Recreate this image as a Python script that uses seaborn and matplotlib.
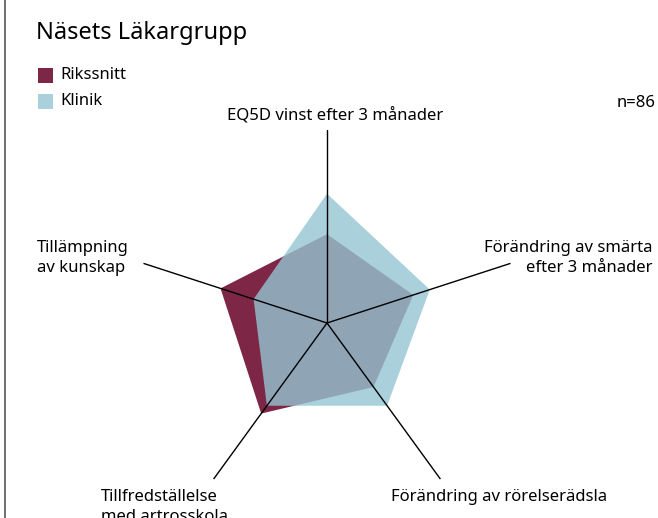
import numpy as np
import matplotlib
matplotlib.use("Agg")
import matplotlib.pyplot as plt
from matplotlib.lines import Line2D
from matplotlib.patches import Rectangle
import seaborn as sns

# -----------------------------------------------------------------------------
# Data (skala 0-100)
# -----------------------------------------------------------------------------
kategorier = [
    "EQ5D vinst efter 3 månader",
    "Förändring av smärta\nefter 3 månader",
    "Förändring av rörelserädsla",
    "Tillfredställelse\nmed artrosskola",
    "Tillämpning\nav kunskap",
]
rikssnitt = [46, 47, 41, 58, 58]
klinik = [67, 56, 53, 53, 40]
serier = ["Rikssnitt", "Klinik"]
titel = "Näsets Läkargrupp"
antal = "n=86"

farger = {"Rikssnitt": "#7d2645", "Klinik": "#94c5d2"}
alfa = {"Rikssnitt": 1.0, "Klinik": 0.8}

sns.set_theme(style="white")
plt.rcParams["font.family"] = ["Noto Sans", "DejaVu Sans"]
plt.rcParams["text.color"] = "black"

W, H = 658, 518
fig = plt.figure(figsize=(W / 100, H / 100), dpi=100)


def fx(px):
    return px / W


def fy(py):
    return 1 - py / H


# polär axel centrerad i (327, 323) px med radie 193 px
cx, cy, R = 327, 323, 193
ax = fig.add_axes([fx(cx - R), fy(cy + R), 2 * R / W, 2 * R / H], projection="polar")
ax.set_theta_zero_location("N")
ax.set_theta_direction(-1)
ax.set_ylim(0, 100)
ax.grid(False)
ax.set_xticks([])
ax.set_yticks([])
ax.spines["polar"].set_visible(False)
ax.patch.set_alpha(0)

vinklar = np.linspace(0, 2 * np.pi, len(kategorier), endpoint=False)
slut = np.append(vinklar, vinklar[0])

ax.fill(slut, rikssnitt + rikssnitt[:1], color=farger["Rikssnitt"], lw=0, zorder=1)
ax.fill(slut, klinik + klinik[:1], color=farger["Klinik"], alpha=alfa["Klinik"],
        lw=0, zorder=2)

for v in vinklar:
    ax.plot([v, v], [0, 100], color="black", lw=1.0, zorder=3)

# -----------------------------------------------------------------------------
# Texter
# -----------------------------------------------------------------------------
fs = 12
fig.text(fx(335), fy(115), kategorier[0], ha="center", va="center", fontsize=fs)
fig.text(fx(653), fy(258), kategorier[1], ha="right", va="center", fontsize=fs,
         multialignment="right", linespacing=1.3)
fig.text(fx(499), fy(497), kategorier[2], ha="center", va="center", fontsize=fs)
fig.text(fx(101), fy(489), kategorier[3], ha="left", va="top", fontsize=fs,
         linespacing=1.3)
fig.text(fx(37), fy(258), kategorier[4], ha="left", va="center", fontsize=fs,
         linespacing=1.3)

fig.text(fx(36), fy(33), titel, ha="left", va="center", fontsize=17)
fig.text(fx(656), fy(103), antal, ha="right", va="center", fontsize=fs)

# legend
for i, namn in enumerate(serier):
    y0 = 68 + i * 26
    fig.add_artist(Rectangle((fx(38), fy(y0 + 15)), 15 / W, 15 / H,
                             color=farger[namn], alpha=alfa[namn], lw=0,
                             transform=fig.transFigure))
    fig.text(fx(60), fy(y0 + 7), namn, ha="left", va="center", fontsize=fs)

# vänster ramlinje
fig.add_artist(Line2D([fx(5), fx(5)], [0, 1], color="#555555", lw=1.2,
                      transform=fig.transFigure))

fig.savefig("out.png", dpi=100)
plt.close()
